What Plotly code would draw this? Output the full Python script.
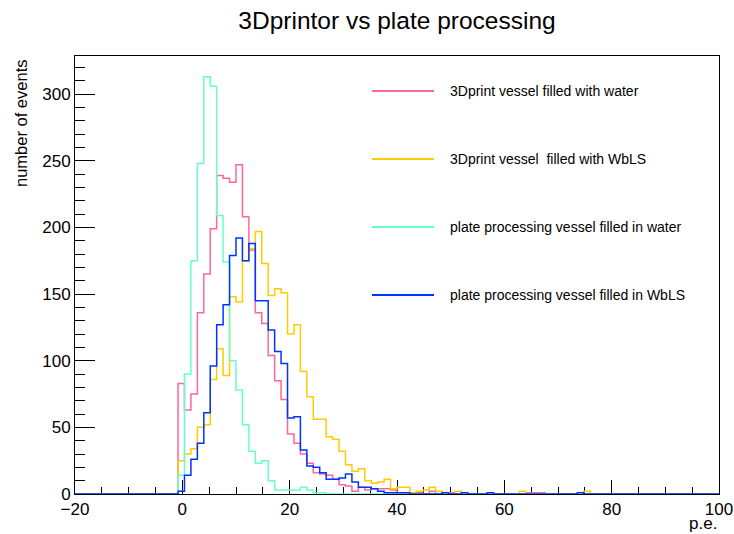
import plotly.graph_objects as go

# ---- histogram binning: 100 bins spanning [-20, 100] p.e. ----
N_BINS = 100
X_LOW, X_HIGH = -20.0, 100.0
FIRST_FILLED_BIN = 16  # bins below this index are empty (left edge -0.8)

SERIES_NAMES = [
    "3Dprint vessel filled with water",
    "3Dprint vessel\u00a0 filled with WbLS",
    "plate processing vessel filled in water",
    "plate processing vessel filled in WbLS",
]
SERIES_COLORS = ["#ff6699", "#ffcc00", "#66ffcc", "#0033ff"]

# bin contents, starting at FIRST_FILLED_BIN
counts_3d_water = [83, 63, 75, 136, 165, 199, 239, 237, 234, 247,
                   208, 183, 136, 128, 104, 85, 71, 45, 38, 30,
                   23, 16, 15, 14, 11, 7, 6, 2, 5, 3,
                   4, 4, 4, 3, 1, 0, 0, 1, 0, 2,
                   0, 1, 1, 0, 0, 0, 0, 0, 0, 0,
                   0, 0, 0, 0, 1, 1, 1, 0, 0, 0,
                   0, 0, 0, 0]
counts_3d_wbls = [25, 30, 34, 50, 52, 86, 109, 89, 148, 144,
                  175, 184, 197, 173, 149, 154, 151, 120, 127, 92,
                  73, 56, 56, 43, 41, 32, 22, 17, 19, 10,
                  8, 9, 11, 4, 5, 5, 1, 2, 3, 5,
                  2, 0, 0, 2, 0, 0, 0, 0, 1, 0,
                  0, 0, 0, 2, 0, 0, 0, 0, 0, 0,
                  0, 0, 0, 2]
counts_plate_water = [14, 90, 175, 248, 313, 306, 209, 174, 100, 78,
                      52, 32, 23, 25, 10, 3, 3, 3, 3, 5,
                      3, 1, 1]
counts_plate_wbls = [2, 14, 26, 38, 61, 96, 127, 142, 179, 192,
                     175, 188, 145, 145, 123, 107, 98, 57, 58, 33,
                     21, 20, 16, 11, 11, 12, 15, 9, 5, 5,
                     4, 2, 1, 1, 1, 1, 0, 0, 0, 0,
                     0, 1, 0, 0, 1, 0, 0, 0, 1, 0,
                     0, 0, 0, 0, 0, 0, 0, 0, 0, 0,
                     0, 0, 1, 0]

ALL_COUNTS = [counts_3d_water, counts_3d_wbls, counts_plate_water, counts_plate_wbls]

TITLE = "3Dprintor vs plate processing"
X_TITLE = "p.e."
Y_TITLE = "number of events"

FONT = "Liberation Sans, Arial, Helvetica, sans-serif"

bin_w = (X_HIGH - X_LOW) / N_BINS
edges = [X_LOW + i * bin_w for i in range(N_BINS + 1)]

fig = go.Figure()
for name, color, counts in zip(SERIES_NAMES, SERIES_COLORS, ALL_COUNTS):
    full = [0] * N_BINS
    full[FIRST_FILLED_BIN:FIRST_FILLED_BIN + len(counts)] = counts
    fig.add_trace(go.Scatter(
        x=edges, y=full + [full[-1]], mode="lines", name=name,
        line=dict(color=color, width=1.5, shape="hv"),
        showlegend=False, hoverinfo="skip",
    ))

y_max = 1.05 * max(max(c) for c in ALL_COUNTS)

# frame geometry (pixels)
W, H = 734, 534
M_L, M_R, M_T, M_B = 75, 15, 56, 40
plot_w = W - M_L - M_R
plot_h = H - M_T - M_B


def px_x(px):
    return (px - M_L) / plot_w


def px_y(py):
    return (H - M_B - py) / plot_h


# legend drawn as line samples + labels inside the frame
shapes = []
annotations = []
for j, (name, color) in enumerate(zip(SERIES_NAMES, SERIES_COLORS)):
    yy = px_y(91 + 68 * j)
    shapes.append(dict(type="line", xref="paper", yref="paper",
                       x0=px_x(372), x1=px_x(434), y0=yy, y1=yy,
                       line=dict(color=color, width=2)))
    annotations.append(dict(text=name, xref="paper", yref="paper",
                            x=px_x(448), y=yy, xanchor="left", yanchor="middle",
                            showarrow=False, font=dict(size=14, color="black", family=FONT)))

annotations.append(dict(text=X_TITLE, xref="paper", yref="paper", x=1.0, y=px_y(523),
                        xanchor="right", yanchor="middle", showarrow=False,
                        font=dict(size=17, color="black", family=FONT)))
annotations.append(dict(text=Y_TITLE, xref="paper", yref="paper", x=px_x(21), y=px_y(57),
                        xanchor="center", yanchor="top", textangle=-90, showarrow=False,
                        font=dict(size=16.5, color="black", family=FONT)))

axis_common = dict(
    showgrid=False, zeroline=False, showline=True, mirror=True,
    linecolor="black", linewidth=1, ticks="inside", tickcolor="black",
    tickwidth=1, tickfont=dict(size=17, color="black", family=FONT),
    layer="below traces", automargin=False,
)

fig.update_layout(
    width=W, height=H,
    margin=dict(l=M_L, r=M_R, t=M_T, b=M_B),
    paper_bgcolor="white", plot_bgcolor="white",
    font=dict(family=FONT, color="black"),
    title=dict(text=TITLE, x=0.5, xref="paper", xanchor="center",
               y=1 - 20 / H, yref="container", yanchor="middle",
               font=dict(size=24.5, color="black", family=FONT)),
    xaxis=dict(range=[X_LOW, X_HIGH], tickmode="linear", tick0=X_LOW, dtick=20,
               ticklen=14,
               minor=dict(dtick=5, ticks="inside", ticklen=7, tickcolor="black", showgrid=False),
               **axis_common),
    yaxis=dict(range=[0, y_max], tickmode="linear", tick0=0, dtick=50,
               ticklen=20,
               minor=dict(dtick=10, ticks="inside", ticklen=10, tickcolor="black", showgrid=False),
               **axis_common),
    shapes=shapes,
    annotations=annotations,
)

fig.write_html("out.html")
